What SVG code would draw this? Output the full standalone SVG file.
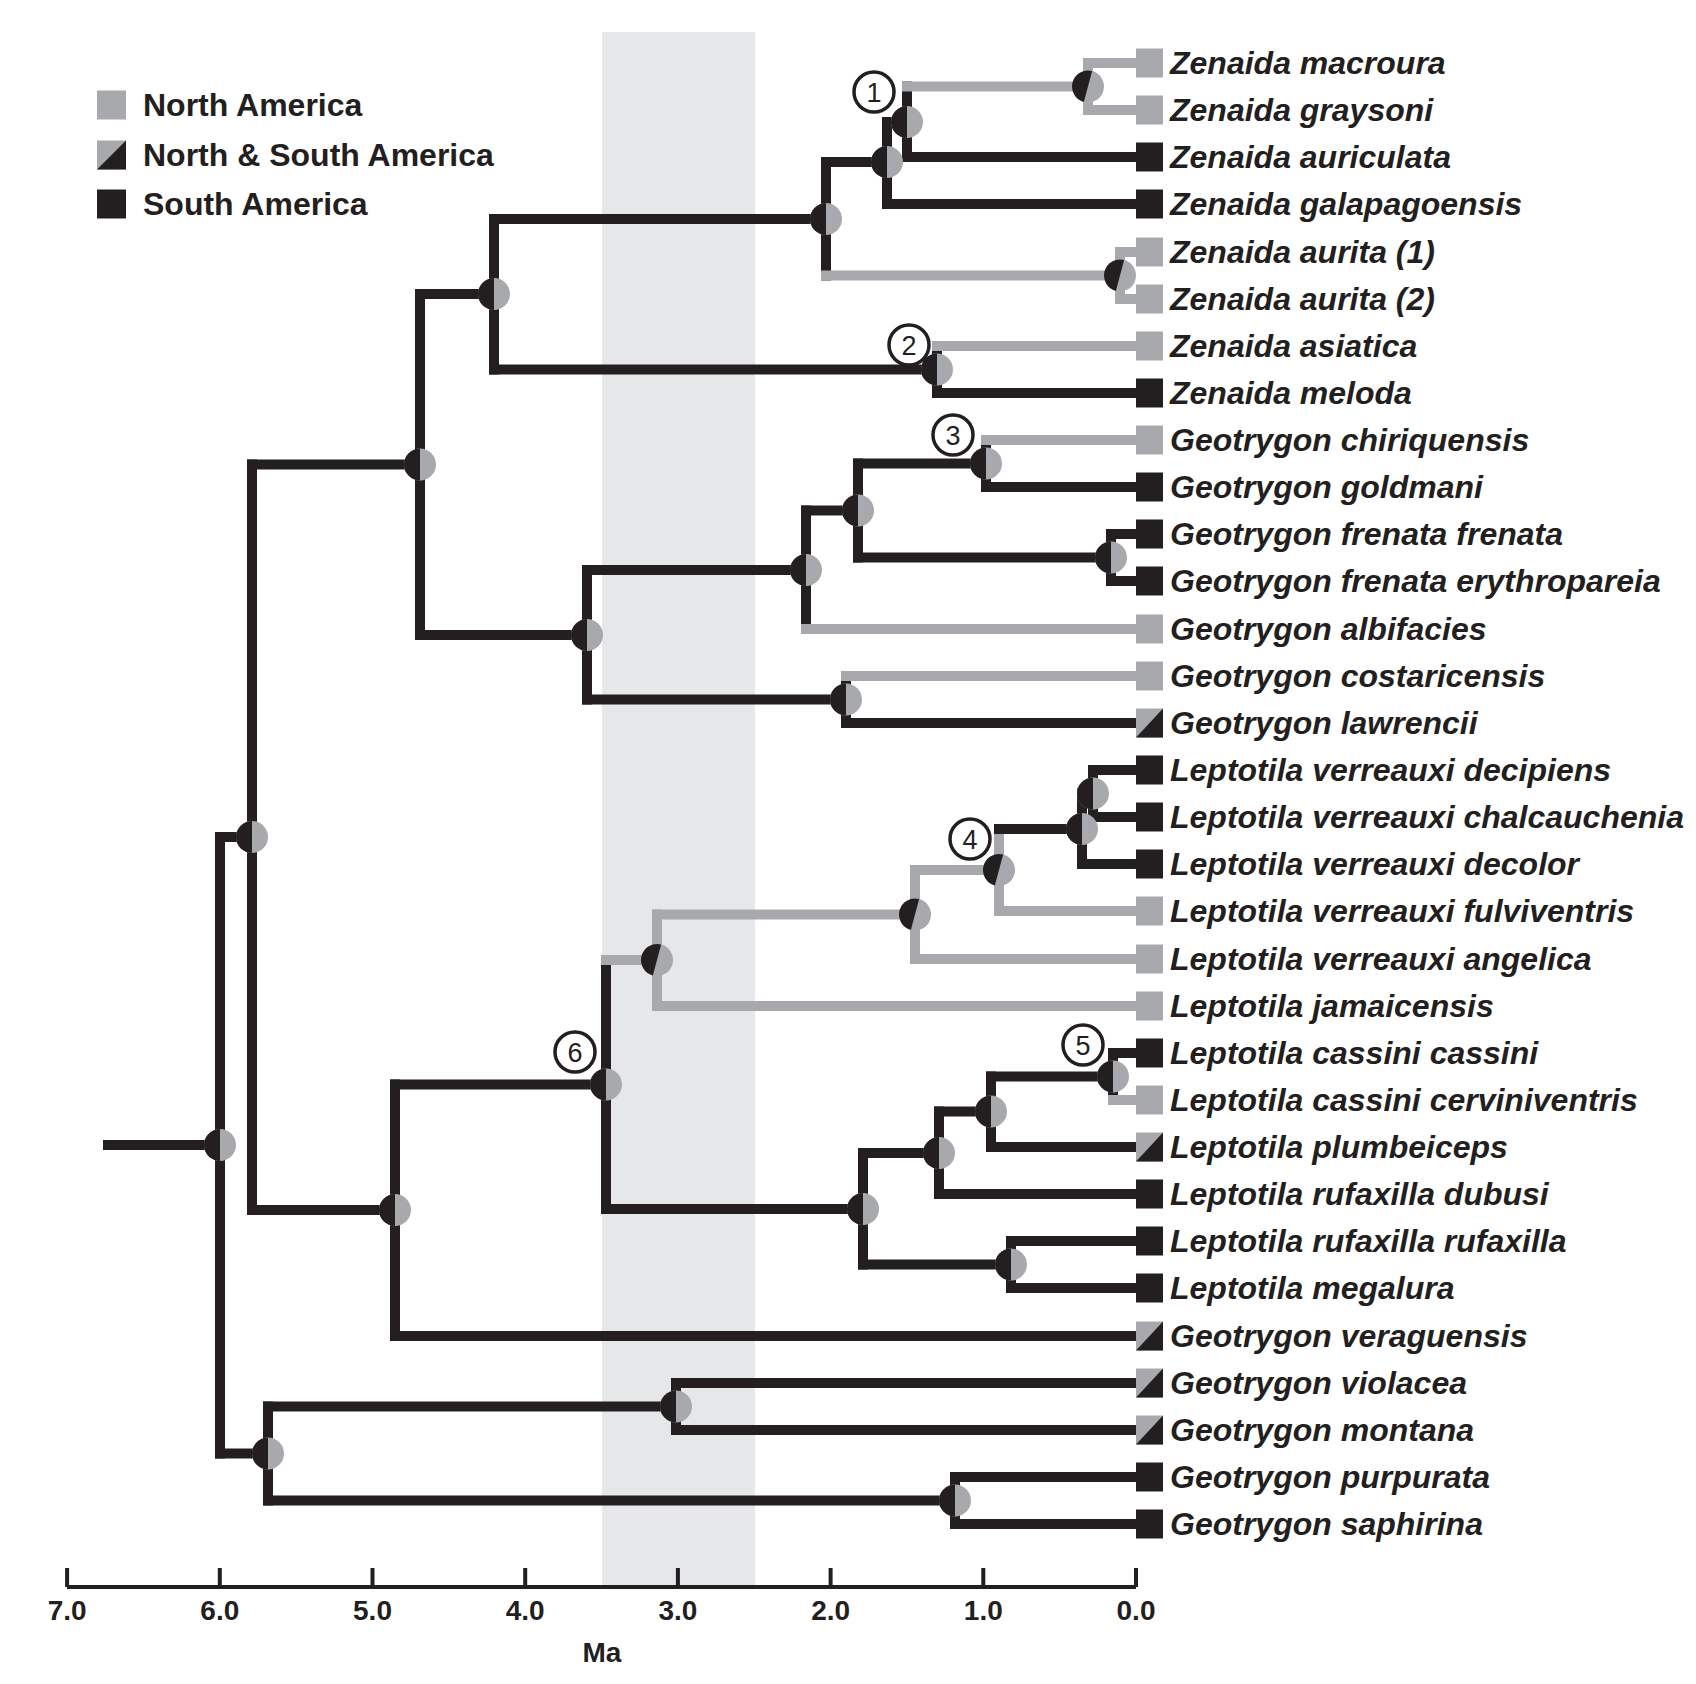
<svg xmlns="http://www.w3.org/2000/svg" xmlns:xlink="http://www.w3.org/1999/xlink" width="1696" height="1684" viewBox="0 0 1696 1684">
<style>
.bk{stroke:#231f20;stroke-width:10;stroke-linecap:square;fill:none}
.gr{stroke:#a7a9ac;stroke-width:10;stroke-linecap:square;fill:none}
.sp{font-family:"Liberation Sans",Arial,sans-serif;font-weight:bold;font-style:italic;font-size:32px;fill:#231f20}
.lg{font-family:"Liberation Sans",Arial,sans-serif;font-weight:bold;font-size:32px;fill:#231f20}
.ax{font-family:"Liberation Sans",Arial,sans-serif;font-weight:bold;font-size:28px;fill:#231f20;text-anchor:middle}
.num{font-family:"Liberation Sans",Arial,sans-serif;font-size:27px;fill:#231f20;text-anchor:middle}
.cir{fill:#fff;stroke:#231f20;stroke-width:3.5}
</style>
<defs>
<g id="pie"><circle r="16" fill="#a7a9ac"/><path d="M0,-16A16,16 0 0 0 0,16Z" fill="#231f20"/></g>
<g id="pieN" transform="rotate(15)"><circle r="16" fill="#a7a9ac"/><path d="M0,-16A16,16 0 0 0 0,16Z" fill="#231f20"/></g>
<rect id="sqG" x="0" y="-14.5" width="27" height="29" fill="#a7a9ac"/>
<rect id="sqB" x="0" y="-14.5" width="27" height="29" fill="#231f20"/>
<g id="sqM"><rect x="0" y="-14.5" width="27" height="29" fill="#a7a9ac"/><path d="M0,14.5L27,-14.5V14.5Z" fill="#231f20"/></g>
</defs>
<rect width="1696" height="1684" fill="#fff"/>
<rect id="band" x="602" y="32" width="153" height="1555" fill="#e6e7e8"/>

<g id="legend">
<rect x="97" y="90.5" width="29" height="29" fill="#a7a9ac"/>
<rect x="97" y="140.5" width="29" height="29" fill="#a7a9ac"/><path d="M97,169.5L126,140.5V169.5Z" fill="#231f20"/>
<rect x="97" y="189.5" width="29" height="29" fill="#231f20"/>
<text class="lg" x="143" y="116">North America</text>
<text class="lg" x="143" y="166">North &amp; South America</text>
<text class="lg" x="143" y="215">South America</text>
</g>

<g id="connectors">
<g class="bk">
<path d="M907,86.5V157M887,122V204M826,162V275.5M937,346V393M494,219V369.5M986,440V487M1111,534V581M858,463.5V557.5M806,510.5V629M846,676V723M587,570V699.5M420,294V635M1093,770V817M1082,793.5V864M1113,1053V1100M991,1076.5V1147M939,1111.5V1194M1011,1241V1288M863,1153V1264.5M606,960V1209M395,1084.5V1336M252,464.5V1210M676,1383V1430M955,1477V1524M268,1406.5V1500.5M220,837V1453.5"/>
</g>
<g class="gr">
<path d="M1088,63V110M1120,252V299M999,829V911M915,870V959M657,914.5V1006"/>
</g>
<g class="gr">
<path d="M907,86.5H1088M1088,63H1136M1088,110H1136M826,275.5H1120M1120,252H1136M1120,299H1136M937,346H1136M986,440H1136M806,629H1136M846,676H1136M606,960H657M657,914.5H915M657,1006H1136M915,870H999M915,959H1136M999,911H1136M1113,1100H1136"/>
</g>
<g class="bk">
<path d="M907,157H1136M887,122H907M887,204H1136M826,162H887M494,219H826M494,369.5H937M937,393H1136M420,294H494M420,635H587M986,487H1136M858,463.5H986M858,557.5H1111M1111,534H1136M1111,581H1136M806,510.5H858M587,570H806M587,699.5H846M846,723H1136M252,464.5H420M252,1210H395M395,1084.5H606M395,1336H1136M606,1209H863M863,1153H939M863,1264.5H1011M939,1111.5H991M939,1194H1136M991,1076.5H1113M991,1147H1136M1113,1053H1136M1011,1241H1136M1011,1288H1136M999,829H1082M1082,793.5H1093M1082,864H1136M1093,770H1136M1093,817H1136M220,837H252M220,1453.5H268M268,1406.5H676M268,1500.5H955M676,1383H1136M676,1430H1136M955,1477H1136M955,1524H1136M108,1145H220"/>
</g>
</g>

<g id="nodes">
<use id="n-zmg" xlink:href="#pieN" href="#pieN" x="1088" y="86.5"/>
<use id="n-1" xlink:href="#pie" href="#pie" x="907" y="122"/>
<use id="n-z2" xlink:href="#pie" href="#pie" x="887" y="162"/>
<use id="n-zau" xlink:href="#pieN" href="#pieN" x="1120" y="275.5"/>
<use id="n-zr" xlink:href="#pie" href="#pie" x="826" y="219"/>
<use id="n-2" xlink:href="#pie" href="#pie" x="937" y="369.5"/>
<use id="n-e" xlink:href="#pie" href="#pie" x="494" y="294"/>
<use id="n-3" xlink:href="#pie" href="#pie" x="986" y="463.5"/>
<use id="n-fr" xlink:href="#pie" href="#pie" x="1111" y="557.5"/>
<use id="n-h" xlink:href="#pie" href="#pie" x="858" y="510.5"/>
<use id="n-g" xlink:href="#pie" href="#pie" x="806" y="570"/>
<use id="n-cl" xlink:href="#pie" href="#pie" x="846" y="699.5"/>
<use id="n-f" xlink:href="#pie" href="#pie" x="587" y="635"/>
<use id="n-d" xlink:href="#pie" href="#pie" x="420" y="464.5"/>
<use id="n-m" xlink:href="#pie" href="#pie" x="1082" y="829"/>
<use id="n-nd" xlink:href="#pie" href="#pie" x="1093" y="793.5"/>
<use id="n-4" xlink:href="#pieN" href="#pieN" x="999" y="870"/>
<use id="n-l" xlink:href="#pieN" href="#pieN" x="915" y="914.5"/>
<use id="n-j" xlink:href="#pieN" href="#pieN" x="657" y="960"/>
<use id="n-5" xlink:href="#pie" href="#pie" x="1113" y="1076.5"/>
<use id="n-r" xlink:href="#pie" href="#pie" x="991" y="1111.5"/>
<use id="n-p" xlink:href="#pie" href="#pie" x="939" y="1153"/>
<use id="n-q" xlink:href="#pie" href="#pie" x="1011" y="1264.5"/>
<use id="n-k" xlink:href="#pie" href="#pie" x="863" y="1209"/>
<use id="n-6" xlink:href="#pie" href="#pie" x="606" y="1084.5"/>
<use id="n-c" xlink:href="#pie" href="#pie" x="395" y="1210"/>
<use id="n-b" xlink:href="#pie" href="#pie" x="252" y="837"/>
<use id="n-t" xlink:href="#pie" href="#pie" x="676" y="1406.5"/>
<use id="n-u" xlink:href="#pie" href="#pie" x="955" y="1500.5"/>
<use id="n-s" xlink:href="#pie" href="#pie" x="268" y="1453.5"/>
<use id="n-root" xlink:href="#pie" href="#pie" x="220" y="1145"/>
</g>

<g id="labels-num">
<g id="c1"><circle class="cir" cx="874" cy="92" r="20"/><text class="num" x="874" y="101.5">1</text></g>
<g id="c2"><circle class="cir" cx="909" cy="345" r="20"/><text class="num" x="909" y="354.5">2</text></g>
<g id="c3"><circle class="cir" cx="953" cy="435" r="20"/><text class="num" x="953" y="444.5">3</text></g>
<g id="c4"><circle class="cir" cx="970" cy="839" r="20"/><text class="num" x="970" y="848.5">4</text></g>
<g id="c5"><circle class="cir" cx="1083" cy="1045" r="20"/><text class="num" x="1083" y="1054.5">5</text></g>
<g id="c6"><circle class="cir" cx="575" cy="1052" r="20"/><text class="num" x="575" y="1061.5">6</text></g>
</g>

<g id="leaves">
<g id="t0"><use href="#sqG" xlink:href="#sqG" x="1136" y="63"/><text class="sp" x="1170" y="74">Zenaida macroura</text></g>
<g id="t1"><use href="#sqG" xlink:href="#sqG" x="1136" y="110"/><text class="sp" x="1170" y="121">Zenaida graysoni</text></g>
<g id="t2"><use href="#sqB" xlink:href="#sqB" x="1136" y="157"/><text class="sp" x="1170" y="168">Zenaida auriculata</text></g>
<g id="t3"><use href="#sqB" xlink:href="#sqB" x="1136" y="204"/><text class="sp" x="1170" y="215">Zenaida galapagoensis</text></g>
<g id="t4"><use href="#sqG" xlink:href="#sqG" x="1136" y="252"/><text class="sp" x="1170" y="263">Zenaida aurita (1)</text></g>
<g id="t5"><use href="#sqG" xlink:href="#sqG" x="1136" y="299"/><text class="sp" x="1170" y="310">Zenaida aurita (2)</text></g>
<g id="t6"><use href="#sqG" xlink:href="#sqG" x="1136" y="346"/><text class="sp" x="1170" y="357">Zenaida asiatica</text></g>
<g id="t7"><use href="#sqB" xlink:href="#sqB" x="1136" y="393"/><text class="sp" x="1170" y="404">Zenaida meloda</text></g>
<g id="t8"><use href="#sqG" xlink:href="#sqG" x="1136" y="440"/><text class="sp" x="1170" y="451">Geotrygon chiriquensis</text></g>
<g id="t9"><use href="#sqB" xlink:href="#sqB" x="1136" y="487"/><text class="sp" x="1170" y="498">Geotrygon goldmani</text></g>
<g id="t10"><use href="#sqB" xlink:href="#sqB" x="1136" y="534"/><text class="sp" x="1170" y="545">Geotrygon frenata frenata</text></g>
<g id="t11"><use href="#sqB" xlink:href="#sqB" x="1136" y="581"/><text class="sp" x="1170" y="592">Geotrygon frenata erythropareia</text></g>
<g id="t12"><use href="#sqG" xlink:href="#sqG" x="1136" y="629"/><text class="sp" x="1170" y="640">Geotrygon albifacies</text></g>
<g id="t13"><use href="#sqG" xlink:href="#sqG" x="1136" y="676"/><text class="sp" x="1170" y="687">Geotrygon costaricensis</text></g>
<g id="t14"><use href="#sqM" xlink:href="#sqM" x="1136" y="723"/><text class="sp" x="1170" y="734">Geotrygon lawrencii</text></g>
<g id="t15"><use href="#sqB" xlink:href="#sqB" x="1136" y="770"/><text class="sp" x="1170" y="781">Leptotila verreauxi decipiens</text></g>
<g id="t16"><use href="#sqB" xlink:href="#sqB" x="1136" y="817"/><text class="sp" x="1170" y="828">Leptotila verreauxi chalcauchenia</text></g>
<g id="t17"><use href="#sqB" xlink:href="#sqB" x="1136" y="864"/><text class="sp" x="1170" y="875">Leptotila verreauxi decolor</text></g>
<g id="t18"><use href="#sqG" xlink:href="#sqG" x="1136" y="911"/><text class="sp" x="1170" y="922">Leptotila verreauxi fulviventris</text></g>
<g id="t19"><use href="#sqG" xlink:href="#sqG" x="1136" y="959"/><text class="sp" x="1170" y="970">Leptotila verreauxi angelica</text></g>
<g id="t20"><use href="#sqG" xlink:href="#sqG" x="1136" y="1006"/><text class="sp" x="1170" y="1017">Leptotila jamaicensis</text></g>
<g id="t21"><use href="#sqB" xlink:href="#sqB" x="1136" y="1053"/><text class="sp" x="1170" y="1064">Leptotila cassini cassini</text></g>
<g id="t22"><use href="#sqG" xlink:href="#sqG" x="1136" y="1100"/><text class="sp" x="1170" y="1111">Leptotila cassini cerviniventris</text></g>
<g id="t23"><use href="#sqM" xlink:href="#sqM" x="1136" y="1147"/><text class="sp" x="1170" y="1158">Leptotila plumbeiceps</text></g>
<g id="t24"><use href="#sqB" xlink:href="#sqB" x="1136" y="1194"/><text class="sp" x="1170" y="1205">Leptotila rufaxilla dubusi</text></g>
<g id="t25"><use href="#sqB" xlink:href="#sqB" x="1136" y="1241"/><text class="sp" x="1170" y="1252">Leptotila rufaxilla rufaxilla</text></g>
<g id="t26"><use href="#sqB" xlink:href="#sqB" x="1136" y="1288"/><text class="sp" x="1170" y="1299">Leptotila megalura</text></g>
<g id="t27"><use href="#sqM" xlink:href="#sqM" x="1136" y="1336"/><text class="sp" x="1170" y="1347">Geotrygon veraguensis</text></g>
<g id="t28"><use href="#sqM" xlink:href="#sqM" x="1136" y="1383"/><text class="sp" x="1170" y="1394">Geotrygon violacea</text></g>
<g id="t29"><use href="#sqM" xlink:href="#sqM" x="1136" y="1430"/><text class="sp" x="1170" y="1441">Geotrygon montana</text></g>
<g id="t30"><use href="#sqB" xlink:href="#sqB" x="1136" y="1477"/><text class="sp" x="1170" y="1488">Geotrygon purpurata</text></g>
<g id="t31"><use href="#sqB" xlink:href="#sqB" x="1136" y="1524"/><text class="sp" x="1170" y="1535">Geotrygon saphirina</text></g>
</g>

<g id="axis">
<path d="M67,1587H1136M67.1,1568V1587M219.8,1568V1587M372.5,1568V1587M525.2,1568V1587M677.9,1568V1587M830.6,1568V1587M983.3,1568V1587M1136,1568V1587" stroke="#231f20" stroke-width="4" fill="none"/>
<text class="ax" x="67.1" y="1620">7.0</text>
<text class="ax" x="219.8" y="1620">6.0</text>
<text class="ax" x="372.5" y="1620">5.0</text>
<text class="ax" x="525.2" y="1620">4.0</text>
<text class="ax" x="677.9" y="1620">3.0</text>
<text class="ax" x="830.6" y="1620">2.0</text>
<text class="ax" x="983.3" y="1620">1.0</text>
<text class="ax" x="1136" y="1620">0.0</text>
<text class="ax" x="602" y="1662">Ma</text>
</g>
</svg>
